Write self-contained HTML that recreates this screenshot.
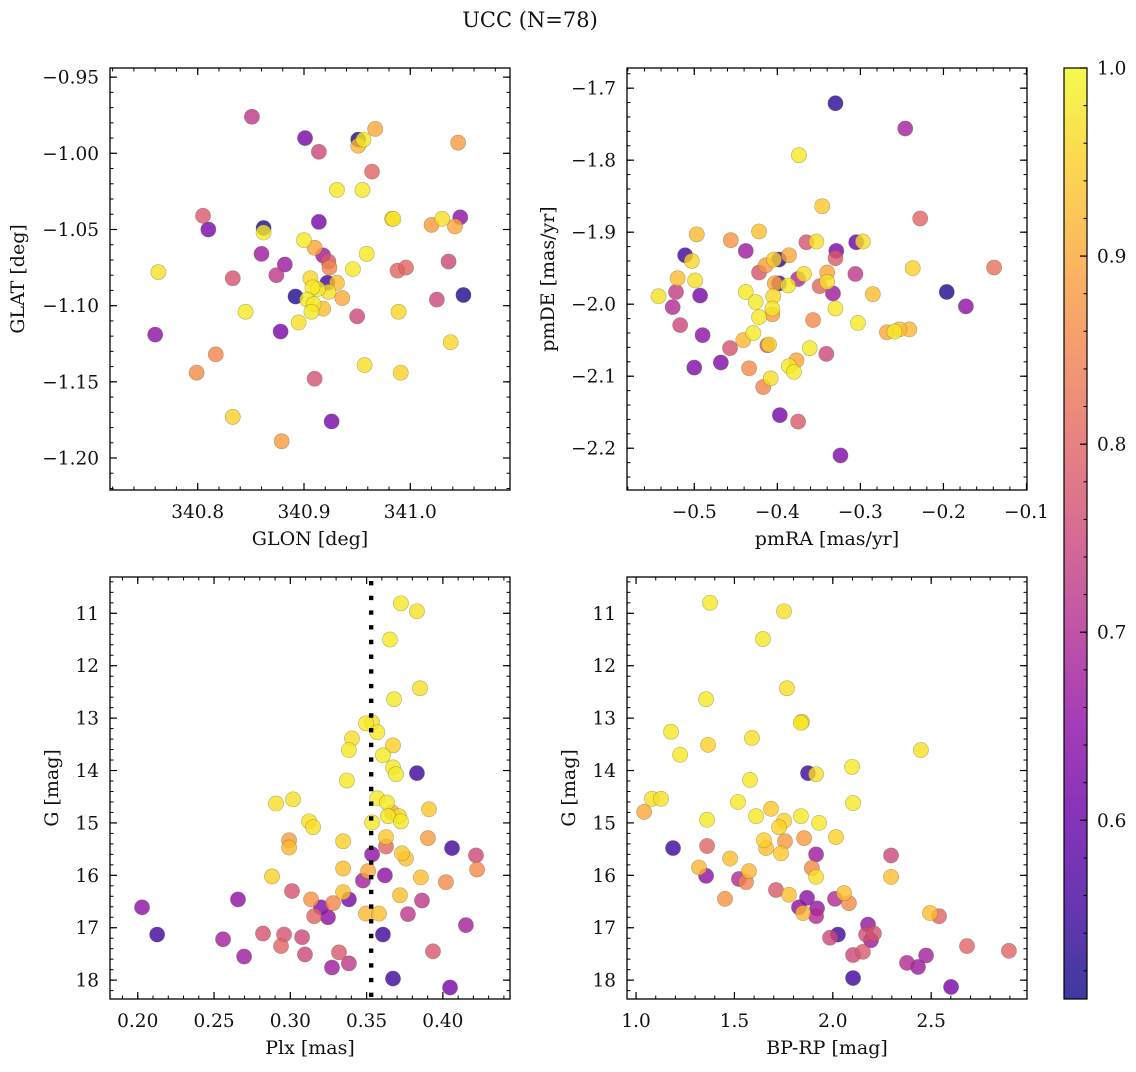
<!DOCTYPE html>
<html><head><meta charset="utf-8"><style>
html,body{margin:0;padding:0;background:#fff;}
svg text{font-family:"DejaVu Serif","Liberation Serif",serif;fill:#111;}
</style></head><body>
<svg id="fig" width="1136" height="1067" viewBox="0 0 1136 1067" xmlns="http://www.w3.org/2000/svg">
<defs>
<linearGradient id="plasma" x1="0" y1="1" x2="0" y2="0">
<stop offset="0" stop-color="#0d0887"/><stop offset="0.1" stop-color="#41049d"/><stop offset="0.2" stop-color="#6a00a8"/><stop offset="0.3" stop-color="#8f0da4"/><stop offset="0.4" stop-color="#b12a90"/><stop offset="0.5" stop-color="#cc4778"/><stop offset="0.6" stop-color="#e16462"/><stop offset="0.7" stop-color="#f2844b"/><stop offset="0.8" stop-color="#fca636"/><stop offset="0.9" stop-color="#fcce25"/><stop offset="1" stop-color="#f0f921"/>
</linearGradient>
</defs>
<text x="530" y="27" font-size="21" text-anchor="middle">UCC (N=78)</text>
</svg>
<script>
// ---- Panel 1: GLON / GLAT ----
const p1Glon=[340.851,340.901,340.914,340.951,340.951,340.956,340.967,341.045,340.964,340.931,340.955,340.805,340.810,340.862,340.862,340.914,340.983,340.984,341.020,341.030,341.047,341.042,340.900,340.910,340.860,340.918,340.923,340.924,340.959,340.946,340.882,340.874,340.763,340.833,340.988,340.996,341.036,340.906,340.922,340.931,340.913,340.923,340.908,340.892,340.936,340.903,340.909,340.918,340.907,341.050,341.025,340.845,340.950,340.989,340.895,340.878,340.760,341.038,340.817,340.799,340.910,340.957,340.991,340.833,340.926,340.879];
const p1Glat=[-0.976,-0.990,-0.999,-0.991,-0.995,-0.991,-0.984,-0.993,-1.012,-1.024,-1.024,-1.041,-1.050,-1.049,-1.052,-1.045,-1.043,-1.043,-1.047,-1.043,-1.042,-1.048,-1.057,-1.062,-1.066,-1.067,-1.071,-1.075,-1.066,-1.076,-1.073,-1.080,-1.078,-1.082,-1.077,-1.075,-1.071,-1.082,-1.085,-1.085,-1.089,-1.091,-1.088,-1.094,-1.095,-1.096,-1.099,-1.102,-1.104,-1.093,-1.096,-1.104,-1.107,-1.104,-1.111,-1.117,-1.119,-1.124,-1.132,-1.144,-1.148,-1.139,-1.144,-1.173,-1.176,-1.189];
const p1Prob=[0.72,0.62,0.75,0.52,0.92,0.98,0.9,0.88,0.8,0.98,0.98,0.78,0.62,0.52,0.98,0.62,0.93,0.98,0.88,0.97,0.65,0.9,0.98,0.9,0.67,0.67,0.78,0.85,0.98,0.98,0.67,0.72,0.97,0.77,0.8,0.8,0.75,0.96,0.55,0.93,0.98,0.97,0.98,0.52,0.9,0.98,0.98,0.93,0.98,0.52,0.75,0.98,0.75,0.96,0.97,0.62,0.65,0.96,0.85,0.86,0.77,0.97,0.95,0.95,0.62,0.88];
const p1XTicks=[340.8,340.9,341.0];
const p1XLabels=["340.8","340.9","341.0"];
const p1YTicks=[-0.95,-1.00,-1.05,-1.10,-1.15,-1.20];
const p1YLabels=["\u22120.95","\u22121.00","\u22121.05","\u22121.10","\u22121.15","\u22121.20"];
// ---- Panel 2: pmRA / pmDE ----
const p2Pmra=[-0.330,-0.246,-0.374,-0.346,-0.228,-0.497,-0.456,-0.422,-0.365,-0.353,-0.438,-0.305,-0.297,-0.329,-0.330,-0.511,-0.503,-0.398,-0.404,-0.386,-0.414,-0.422,-0.237,-0.139,-0.520,-0.499,-0.368,-0.375,-0.340,-0.306,-0.403,-0.398,-0.387,-0.349,-0.340,-0.333,-0.285,-0.543,-0.522,-0.493,-0.438,-0.426,-0.405,-0.196,-0.173,-0.526,-0.406,-0.406,-0.422,-0.330,-0.357,-0.303,-0.517,-0.490,-0.429,-0.441,-0.268,-0.253,-0.241,-0.259,-0.457,-0.412,-0.410,-0.361,-0.341,-0.500,-0.468,-0.434,-0.377,-0.386,-0.380,-0.408,-0.417,-0.397,-0.375,-0.324];
const p2Pmde=[-1.721,-1.756,-1.793,-1.864,-1.881,-1.903,-1.911,-1.899,-1.914,-1.913,-1.926,-1.914,-1.913,-1.926,-1.936,-1.932,-1.940,-1.938,-1.938,-1.932,-1.946,-1.956,-1.950,-1.949,-1.964,-1.967,-1.958,-1.965,-1.956,-1.958,-1.971,-1.971,-1.974,-1.975,-1.969,-1.985,-1.986,-1.989,-1.983,-1.988,-1.983,-1.997,-1.989,-1.983,-2.003,-2.004,-2.014,-2.006,-2.018,-2.006,-2.022,-2.026,-2.029,-2.043,-2.040,-2.050,-2.039,-2.035,-2.035,-2.038,-2.061,-2.057,-2.056,-2.061,-2.069,-2.088,-2.081,-2.089,-2.078,-2.086,-2.094,-2.103,-2.115,-2.154,-2.163,-2.210];
const p2Prob=[0.53,0.68,0.98,0.94,0.8,0.92,0.87,0.93,0.77,0.97,0.67,0.6,0.97,0.62,0.78,0.55,0.96,0.53,0.95,0.9,0.88,0.77,0.95,0.82,0.93,0.97,0.97,0.7,0.9,0.72,0.9,0.55,0.98,0.8,0.97,0.67,0.93,0.97,0.73,0.62,0.98,0.98,0.96,0.52,0.65,0.7,0.88,0.98,0.98,0.98,0.86,0.98,0.75,0.65,0.98,0.92,0.9,0.93,0.92,0.98,0.77,0.78,0.96,0.98,0.75,0.63,0.63,0.86,0.9,0.98,0.98,0.97,0.85,0.62,0.78,0.63];
const p2XTicks=[-0.5,-0.4,-0.3,-0.2,-0.1];
const p2XLabels=["\u22120.5","\u22120.4","\u22120.3","\u22120.2","\u22120.1"];
const p2YTicks=[-1.7,-1.8,-1.9,-2.0,-2.1,-2.2];
const p2YLabels=["\u22121.7","\u22121.8","\u22121.9","\u22122.0","\u22122.1","\u22122.2"];
// ---- Panel 3: Plx / G ----
const p3Plx=[0.3725,0.383,0.3653,0.385,0.368,0.3496,0.3536,0.357,0.3404,0.3384,0.3673,0.3607,0.3673,0.3693,0.383,0.3371,0.3018,0.2906,0.357,0.3634,0.3666,0.364,0.3712,0.3725,0.3909,0.3123,0.3149,0.3536,0.2992,0.2992,0.3346,0.3627,0.3627,0.3902,0.406,0.4217,0.4224,0.3536,0.3732,0.3758,0.288,0.3346,0.351,0.3476,0.362,0.3856,0.402,0.3011,0.2657,0.3346,0.3384,0.3136,0.3719,0.3863,0.2028,0.3201,0.328,0.3156,0.3247,0.3496,0.3581,0.3771,0.4151,0.2127,0.2559,0.2821,0.2959,0.3077,0.2939,0.3607,0.2697,0.3096,0.3319,0.3384,0.3273,0.3935,0.3673,0.4047];
const p3G=[10.81,10.96,11.50,12.43,12.64,13.10,13.08,13.27,13.39,13.61,13.52,13.71,13.94,14.07,14.05,14.19,14.55,14.63,14.53,14.61,14.80,14.87,14.87,14.97,14.74,14.97,15.08,14.99,15.33,15.47,15.35,15.27,15.45,15.29,15.48,15.62,15.89,15.60,15.58,15.68,16.02,15.87,15.92,16.10,16.00,16.04,16.13,16.30,16.46,16.32,16.46,16.46,16.38,16.48,16.61,16.61,16.53,16.78,16.80,16.73,16.73,16.74,16.95,17.13,17.22,17.11,17.13,17.18,17.35,17.13,17.55,17.51,17.47,17.68,17.76,17.45,17.97,18.14];
const p3Prob=[0.98,0.97,0.98,0.97,0.98,0.98,0.97,0.98,0.97,0.98,0.95,0.98,0.98,0.98,0.55,0.98,0.97,0.97,0.98,0.98,0.9,0.98,0.96,0.98,0.94,0.97,0.97,0.98,0.88,0.92,0.95,0.94,0.8,0.88,0.55,0.75,0.86,0.65,0.94,0.93,0.95,0.93,0.9,0.68,0.65,0.93,0.86,0.77,0.65,0.93,0.62,0.87,0.93,0.72,0.65,0.63,0.85,0.8,0.65,0.92,0.93,0.72,0.68,0.55,0.68,0.77,0.77,0.75,0.8,0.55,0.67,0.75,0.78,0.72,0.67,0.78,0.55,0.62];
const p3PlxLine=[0.353];
const p3XTicks=[0.20,0.25,0.30,0.35,0.40];
const p3XLabels=["0.20","0.25","0.30","0.35","0.40"];
const gTicks=[11,12,13,14,15,16,17,18];
const gLabels=["11","12","13","14","15","16","17","18"];
// ---- Panel 4: BP-RP / G ----
const p4Bprp=[1.376,1.752,1.645,1.767,1.356,1.838,1.843,1.178,1.589,1.224,1.366,2.448,2.098,1.874,1.915,1.579,1.081,1.127,1.518,2.103,1.041,1.686,1.610,1.838,1.752,1.727,1.930,1.361,2.016,1.650,1.661,1.757,1.854,1.737,1.188,1.361,1.915,2.296,1.478,1.320,1.574,1.894,1.915,1.356,1.523,1.559,2.296,1.711,1.777,1.452,1.869,2.011,2.057,2.082,1.828,1.920,1.849,1.915,2.494,2.540,2.179,2.026,1.986,2.169,2.209,2.194,2.682,2.895,2.103,2.153,2.474,2.377,2.433,2.103,2.601];
const p4G=[10.80,10.96,11.49,12.43,12.64,13.09,13.07,13.26,13.38,13.70,13.51,13.61,13.93,14.05,14.07,14.18,14.54,14.54,14.60,14.62,14.79,14.73,14.87,14.87,14.96,15.08,15.00,14.94,15.27,15.33,15.48,15.35,15.29,15.58,15.48,15.44,15.60,15.62,15.68,15.85,15.92,15.86,16.03,16.01,16.07,16.13,16.03,16.28,16.37,16.45,16.43,16.45,16.34,16.53,16.61,16.63,16.72,16.78,16.72,16.78,16.94,17.13,17.19,17.13,17.11,17.24,17.35,17.44,17.52,17.46,17.53,17.67,17.75,17.96,18.13];
const p4Prob=[0.98,0.97,0.98,0.97,0.98,0.98,0.95,0.98,0.97,0.98,0.95,0.97,0.98,0.55,0.97,0.98,0.97,0.97,0.98,0.98,0.9,0.94,0.98,0.98,0.95,0.95,0.98,0.98,0.95,0.95,0.93,0.88,0.88,0.94,0.55,0.8,0.67,0.75,0.93,0.92,0.92,0.86,0.97,0.65,0.7,0.85,0.93,0.78,0.93,0.87,0.65,0.7,0.93,0.86,0.65,0.66,0.92,0.7,0.93,0.8,0.66,0.55,0.75,0.76,0.77,0.67,0.8,0.8,0.75,0.78,0.68,0.7,0.67,0.55,0.62];
const p4XTicks=[1.0,1.5,2.0,2.5];
const p4XLabels=["1.0","1.5","2.0","2.5"];
// ---- Colorbar ----
const cbTicks=[0.6,0.7,0.8,0.9,1.0];
const cbLabels=["0.6","0.7","0.8","0.9","1.0"];
const cbMin=0.505, cbMax=1.0;

const NS="http://www.w3.org/2000/svg";
const svg=document.getElementById('fig');
const TFS=18.5, LFS=19;
function mk(tag,attrs,parent){const e=document.createElementNS(NS,tag);for(const k in attrs)e.setAttribute(k,attrs[k]);(parent||svg).appendChild(e);return e;}
const stops=[[13,8,135],[65,4,157],[106,0,168],[143,13,164],[177,42,144],[204,71,120],[225,100,98],[242,132,75],[252,166,54],[252,206,37],[240,249,33]];
function plasma(v){let t=(v-cbMin)/(cbMax-cbMin);t=Math.max(0,Math.min(1,t))*10;const i=Math.min(9,Math.floor(t)),f=t-i;const a=stops[i],b=stops[i+1];return 'rgb('+a.map((c,k)=>Math.round(c+(b[k]-c)*f)).join(',')+')';}

function panel(name,box,xd,yd,xt,xl,yt,yl,xMinorStep,yMinorStep,xs,ys,ps,xlab,ylab,ylabX){
  const g=mk('g',{});
  
  
  const sx=v=>box.x+(v-xd[0])/(xd[1]-xd[0])*box.w;
  const sy=v=>box.y+(v-yd[0])/(yd[1]-yd[0])*box.h;
  const idx=ps.map((p,i)=>i).filter(i=>i<xs.length&&i<ys.length).sort((a,b)=>ps[a]-ps[b]);
  const pg=mk('g',{},g);
  
  
  idx.forEach(i=>{const c=mk('circle',{cx:sx(xs[i]),cy:sy(ys[i]),r:7.6,fill:plasma(ps[i]),'fill-opacity':0.8,stroke:'#606030','stroke-opacity':0.45,'stroke-width':0.6},pg);
    
    });
  const fr=mk('rect',{x:box.x,y:box.y,width:box.w,height:box.h,fill:'none',stroke:'#000','stroke-width':1.3},g);
  
  
  const lo=Math.min(xd[0],xd[1]),hi=Math.max(xd[0],xd[1]);
  for(let v=Math.ceil(lo/xMinorStep-1e-6)*xMinorStep;v<=hi+1e-9;v+=xMinorStep){const X=sx(v);mk('line',{x1:X,x2:X,y1:box.y+box.h,y2:box.y+box.h-3.5,stroke:'#000','stroke-width':1},g);mk('line',{x1:X,x2:X,y1:box.y,y2:box.y+3.5,stroke:'#000','stroke-width':1},g);}
  const ylo=Math.min(yd[0],yd[1]),yhi=Math.max(yd[0],yd[1]);
  for(let v=Math.ceil(ylo/yMinorStep-1e-6)*yMinorStep;v<=yhi+1e-9;v+=yMinorStep){const Y=sy(v);mk('line',{x1:box.x,x2:box.x+3.5,y1:Y,y2:Y,stroke:'#000','stroke-width':1},g);mk('line',{x1:box.x+box.w,x2:box.x+box.w-3.5,y1:Y,y2:Y,stroke:'#000','stroke-width':1},g);}
  xt.forEach((v,i)=>{const X=sx(v);mk('line',{x1:X,x2:X,y1:box.y+box.h,y2:box.y+box.h-7,stroke:'#000','stroke-width':1.2},g);mk('line',{x1:X,x2:X,y1:box.y,y2:box.y+7,stroke:'#000','stroke-width':1.2},g);
    const t=mk('text',{x:X,y:box.y+box.h+28,'font-size':TFS,'text-anchor':'middle'},g);t.textContent=xl[i];
    
    });
  yt.forEach((v,i)=>{const Y=sy(v);mk('line',{x1:box.x,x2:box.x+7,y1:Y,y2:Y,stroke:'#000','stroke-width':1.2},g);mk('line',{x1:box.x+box.w,x2:box.x+box.w-7,y1:Y,y2:Y,stroke:'#000','stroke-width':1.2},g);
    const t=mk('text',{x:box.x-11,y:Y+6.5,'font-size':TFS,'text-anchor':'end'},g);t.textContent=yl[i];
    
    });
  const xa=mk('text',{x:box.x+box.w/2,y:box.y+box.h+55,'font-size':LFS,'text-anchor':'middle'},g);xa.textContent=xlab;
  
  
  const cy=box.y+box.h/2;
  const ya=mk('text',{x:ylabX,y:cy,'font-size':LFS,'text-anchor':'middle',transform:'rotate(-90 '+ylabX+' '+cy+')'},g);ya.textContent=ylab;
  
  
  return {sx,sy,g};
}

panel('glon-glat-panel',{x:110,y:68,w:400,h:422},[340.7175,341.0938],[-0.944,-1.221],p1XTicks,p1XLabels,p1YTicks,p1YLabels,0.02,0.01,p1Glon,p1Glat,p1Prob,'GLON [deg]','GLAT [deg]',24);
panel('pm-panel',{x:627,y:68,w:400,h:422},[-0.581,-0.0994],[-1.672,-2.258],p2XTicks,p2XLabels,p2YTicks,p2YLabels,0.02,0.02,p2Pmra,p2Pmde,p2Prob,'pmRA [mas/yr]','pmDE [mas/yr]',554);
const p3=panel('plx-g-panel',{x:110,y:577,w:400,h:422},[0.1818,0.444],[10.307,18.36],p3XTicks,p3XLabels,gTicks,gLabels,0.01,0.2,p3Plx,p3G,p3Prob,'Plx [mas]','G [mag]',58);
p3PlxLine.forEach(v=>{const X=p3.sx(v);const l=mk('line',{x1:X,x2:X,y1:581,y2:999,stroke:'#000','stroke-width':4.4,'stroke-dasharray':'4.4 10.3'},p3.g);
  
  });
panel('cmd-panel',{x:627,y:577,w:400,h:422},[0.954,2.987],[10.307,18.36],p4XTicks,p4XLabels,gTicks,gLabels,0.1,0.2,p4Bprp,p4G,p4Prob,'BP-RP [mag]','G [mag]',575);

const cb=mk('g',{});


const cbx=1064,cby=68,cbw=23,cbh=931;
mk('rect',{x:cbx,y:cby,width:cbw,height:cbh,fill:'url(#plasma)','fill-opacity':0.8},cb);
mk('rect',{x:cbx,y:cby,width:cbw,height:cbh,fill:'none',stroke:'#000','stroke-width':1.2},cb);
const cy2=v=>cby+(cbMax-v)/(cbMax-cbMin)*cbh;
for(let v=0.52;v<=1.0001;v+=0.02){const Y=cy2(v);mk('line',{x1:cbx+cbw,x2:cbx+cbw-3.5,y1:Y,y2:Y,stroke:'#000','stroke-width':1},cb);}
cbTicks.forEach((v,i)=>{const Y=cy2(v);mk('line',{x1:cbx+cbw,x2:cbx+cbw-7,y1:Y,y2:Y,stroke:'#000','stroke-width':1.2},cb);
  const t=mk('text',{x:cbx+cbw+10,y:Y+6.5,'font-size':TFS},cb);t.textContent=cbLabels[i];
  
  });
</script>
</body></html>
